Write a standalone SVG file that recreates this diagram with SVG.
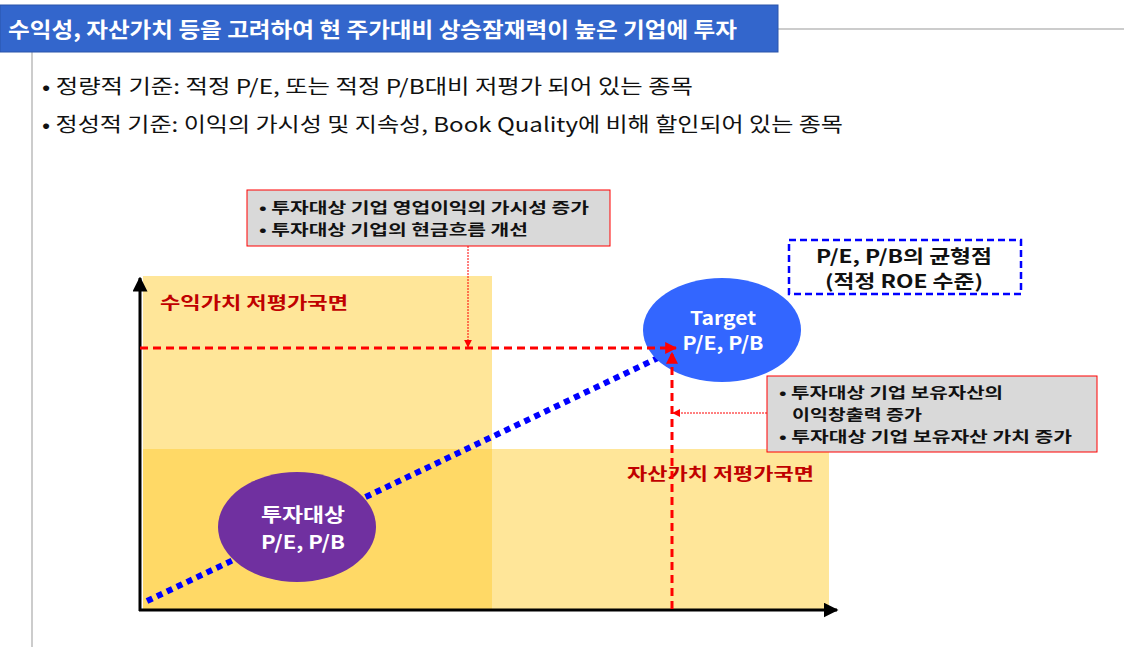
<svg xmlns="http://www.w3.org/2000/svg" width="1124" height="647" viewBox="0 0 1124 647">
<defs>
<style>
text{font-family:"Noto Sans CJK KR","Noto Sans",sans-serif}
.b{font-weight:bold}
.note{font-size:15px;fill:#111;font-weight:bold}
.red{fill:#c00000;font-weight:bold;font-size:17px}
</style>
<marker id="ar" viewBox="0 0 10 10" refX="9" refY="5" markerWidth="4" markerHeight="4" orient="auto"><path d="M0,0L10,5L0,10z" fill="#ff0000"/></marker>
<marker id="ar2" viewBox="0 0 10 10" refX="9" refY="5" markerWidth="8" markerHeight="8" orient="auto"><path d="M0,0L10,5L0,10z" fill="#ff0000"/></marker>
<marker id="ak" viewBox="0 0 10 10" refX="9" refY="5" markerWidth="5" markerHeight="5" orient="auto"><path d="M0,0L10,5L0,10z" fill="#000"/></marker>
</defs>
<rect width="1124" height="647" fill="#fff"/>
<g id="header">
<line x1="778" y1="29" x2="1124" y2="29" stroke="#999" stroke-width="1"/>
<line x1="32" y1="52" x2="32" y2="647" stroke="#999" stroke-width="1"/>
<rect x="0" y="5" width="778" height="47" fill="#3366cc" stroke="#2a55aa"/>
<text x="8" y="37" fill="#fff" class="b" font-size="21" textLength="729" lengthAdjust="spacingAndGlyphs">수익성, 자산가치 등을 고려하여 현 주가대비 상승잠재력이 높은 기업에 투자</text>
</g>
<g id="bullets" font-size="20" fill="#111">
<text x="42" y="94" textLength="651" lengthAdjust="spacingAndGlyphs">• 정량적 기준: 적정 P/E, 또는 적정 P/B대비 저평가 되어 있는 종목</text>
<text x="42" y="132" textLength="801" lengthAdjust="spacingAndGlyphs">• 정성적 기준: 이익의 가시성 및 지속성, Book Quality에 비해 할인되어 있는 종목</text>
</g>
<g id="quadrants">
<rect x="143" y="276" width="349" height="173" fill="#ffe699"/>
<rect x="143" y="449" width="349" height="160" fill="#ffd966"/>
<rect x="492" y="449" width="337" height="160" fill="#ffe699"/>
<text x="160" y="309" class="red" textLength="188" lengthAdjust="spacingAndGlyphs">수익가치 저평가국면</text>
<text x="627" y="480" class="red" textLength="187" lengthAdjust="spacingAndGlyphs">자산가치 저평가국면</text>
</g>
<g id="axes">
<line x1="140" y1="611" x2="140" y2="278" stroke="#000" stroke-width="3" marker-end="url(#ak)"/>
<line x1="139" y1="610" x2="837" y2="610" stroke="#000" stroke-width="3" marker-end="url(#ak)"/>
<line x1="147" y1="601" x2="662" y2="356" stroke="#0000ff" stroke-width="6" stroke-dasharray="6,5"/>
</g>
<g id="node-invest">
<ellipse cx="297" cy="527" rx="79" ry="55" fill="#7030a0"/>
<text x="303" y="522" text-anchor="middle" fill="#fff" class="b" font-size="19" textLength="84" lengthAdjust="spacingAndGlyphs">투자대상</text>
<text x="303" y="549" text-anchor="middle" fill="#fff" class="b" font-size="19" textLength="84" lengthAdjust="spacingAndGlyphs">P/E, P/B</text>
</g>
<g id="node-target">
<ellipse cx="722" cy="330" rx="79" ry="52" fill="#3366ff"/>
<text x="723" y="325" text-anchor="middle" fill="#fff" class="b" font-size="19" textLength="66" lengthAdjust="spacingAndGlyphs">Target</text>
<text x="723" y="350" text-anchor="middle" fill="#fff" class="b" font-size="19" textLength="81" lengthAdjust="spacingAndGlyphs">P/E, P/B</text>
</g>
<g id="connectors">
<line x1="140" y1="348" x2="676" y2="348" stroke="#ff0000" stroke-width="3" stroke-dasharray="8,5" marker-end="url(#ar)"/>
<line x1="672" y1="609" x2="672" y2="353" stroke="#ff0000" stroke-width="3" stroke-dasharray="8,5" marker-end="url(#ar)"/>
<line x1="468" y1="246" x2="468" y2="347" stroke="#ff0000" stroke-width="1" stroke-dasharray="2,1" marker-end="url(#ar2)"/>
<line x1="767" y1="413" x2="673" y2="413" stroke="#ff0000" stroke-width="1" stroke-dasharray="2,1" marker-end="url(#ar2)"/>
</g>
<g id="node-equilibrium">
<rect x="789" y="240" width="232" height="54" fill="#fff" stroke="#0000ff" stroke-width="2.5" stroke-dasharray="7,4"/>
<text x="816" y="263" class="b" font-size="18" fill="#111" textLength="176" lengthAdjust="spacingAndGlyphs">P/E, P/B의 균형점</text>
<text x="825" y="288" class="b" font-size="18" fill="#111" textLength="158" lengthAdjust="spacingAndGlyphs">(적정 ROE 수준)</text>
</g>
<g id="node-earnings">
<rect x="247" y="190" width="363" height="56" fill="#d9d9d9" stroke="#ff0000" stroke-width="1"/>
<text x="259" y="213" class="note" textLength="330" lengthAdjust="spacingAndGlyphs">• 투자대상 기업 영업이익의 가시성 증가</text>
<text x="259" y="235" class="note" textLength="269" lengthAdjust="spacingAndGlyphs">• 투자대상 기업의 현금흐름 개선</text>
</g>
<g id="node-assets">
<rect x="767" y="376" width="330" height="76" fill="#d9d9d9" stroke="#ff0000" stroke-width="1"/>
<text x="779" y="398" class="note" textLength="224" lengthAdjust="spacingAndGlyphs">• 투자대상 기업 보유자산의</text>
<text x="792" y="420" class="note" textLength="130" lengthAdjust="spacingAndGlyphs">이익창출력 증가</text>
<text x="779" y="442" class="note" textLength="293" lengthAdjust="spacingAndGlyphs">• 투자대상 기업 보유자산 가치 증가</text>
</g>
</svg>
